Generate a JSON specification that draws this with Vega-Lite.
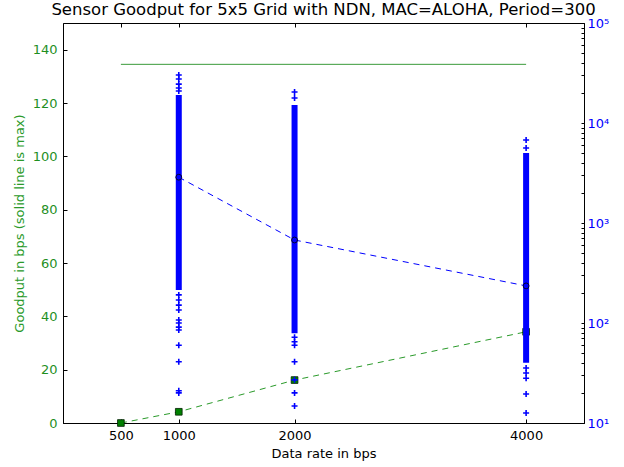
{
  "$schema": "https://vega.github.io/schema/vega-lite/v6.json",
  "width": 521,
  "height": 400,
  "autosize": {"type": "none"},
  "padding": {"left": 63, "top": 23, "right": 40, "bottom": 44},
  "background": "white",
  "config": {
    "font": "DejaVu Sans",
    "view": {"stroke": "black", "strokeWidth": 1},
    "axis": {
      "grid": false,
      "domainColor": "black",
      "tickColor": "black",
      "labelFontSize": 13,
      "titleFontSize": 13,
      "titleFontWeight": "normal",
      "labelColor": "black",
      "titleColor": "black",
      "tickSize": -4,
      "labelFlush": false,
      "labelOverlap": false
    }
  },
  "title": {
    "text": "Sensor Goodput for 5x5 Grid with NDN, MAC=ALOHA, Period=300",
    "fontSize": 16.5,
    "fontWeight": "normal",
    "anchor": "middle",
    "offset": -1,
    "color": "black"
  },
  "datasets": {
    "green": [
      {"rate": 500, "goodput": 0},
      {"rate": 1000, "goodput": 4.2},
      {"rate": 2000, "goodput": 16.1},
      {"rate": 4000, "goodput": 34.2}
    ],
    "maxline": [
      {"rate": 500, "goodput": 134.5},
      {"rate": 4000, "goodput": 134.5}
    ],
    "blueline": [
      {"rate": 1000, "value": 2870},
      {"rate": 2000, "value": 676},
      {"rate": 4000, "value": 235}
    ],
    "ranges": [
      {"rate": 1000, "low": 214, "high": 19050},
      {"rate": 2000, "low": 79, "high": 15100},
      {"rate": 4000, "low": 40, "high": 5000}
    ],
    "scatter": [
      {"rate": 1000, "value": 30200},
      {"rate": 1000, "value": 27500},
      {"rate": 1000, "value": 24500},
      {"rate": 1000, "value": 22400},
      {"rate": 1000, "value": 20900},
      {"rate": 1000, "value": 191},
      {"rate": 1000, "value": 170},
      {"rate": 1000, "value": 151},
      {"rate": 1000, "value": 135},
      {"rate": 1000, "value": 107},
      {"rate": 1000, "value": 100},
      {"rate": 1000, "value": 91},
      {"rate": 1000, "value": 85},
      {"rate": 1000, "value": 60},
      {"rate": 1000, "value": 41},
      {"rate": 1000, "value": 21},
      {"rate": 1000, "value": 20},
      {"rate": 2000, "value": 20400},
      {"rate": 2000, "value": 17800},
      {"rate": 2000, "value": 72},
      {"rate": 2000, "value": 65},
      {"rate": 2000, "value": 60},
      {"rate": 2000, "value": 41},
      {"rate": 2000, "value": 27},
      {"rate": 2000, "value": 20},
      {"rate": 2000, "value": 14.8},
      {"rate": 4000, "value": 6760},
      {"rate": 4000, "value": 5620},
      {"rate": 4000, "value": 35.5},
      {"rate": 4000, "value": 31.6},
      {"rate": 4000, "value": 28},
      {"rate": 4000, "value": 19.5},
      {"rate": 4000, "value": 12.6}
    ]
  },
  "layer": [
    {
      "encoding": {
        "x": {
          "field": "rate",
          "type": "quantitative",
          "scale": {"domain": [0, 4500]},
          "axis": {
            "orient": "bottom",
            "values": [500, 1000, 2000, 4000],
            "format": "d",
            "title": "Data rate in bps",
            "labelPadding": 10,
            "titlePadding": 5
          }
        },
        "y": {
          "field": "goodput",
          "type": "quantitative",
          "scale": {"domain": [0, 150]},
          "axis": {
            "orient": "left",
            "values": [0, 20, 40, 60, 80, 100, 120, 140],
            "title": "Goodput in bps (solid line is max)",
            "labelColor": "#1f8f1f",
            "titleColor": "#2a9a2a",
            "labelPadding": 10,
            "titlePadding": 6
          }
        }
      },
      "layer": [
        {
          "data": {"name": "maxline"},
          "mark": {"type": "line", "color": "#3a9a3a", "strokeWidth": 1}
        },
        {
          "data": {"name": "green"},
          "mark": {"type": "line", "color": "#2a9a2a", "strokeWidth": 1, "strokeDash": [6, 5]}
        },
        {
          "data": {"name": "green"},
          "mark": {"type": "point", "shape": "square", "filled": true, "fill": "#008000", "stroke": "#002000", "strokeWidth": 0.8, "size": 45, "opacity": 1}
        }
      ]
    },
    {
      "encoding": {
        "x": {
          "field": "rate",
          "type": "quantitative",
          "scale": {"domain": [0, 4500]},
          "axis": {
            "orient": "top",
            "values": [500, 1000, 2000, 4000],
            "labels": false,
            "title": null,
            "domain": false
          }
        }
      },
      "layer": [
        {
          "data": {"name": "ranges"},
          "mark": {"type": "rule", "color": "#0000ff", "strokeWidth": 6},
          "encoding": {
            "y": {
              "field": "low",
              "type": "quantitative",
              "scale": {"type": "log", "domain": [10, 100000]},
              "axis": {
                "orient": "right",
                "title": null,
                "values": [10, 20, 30, 40, 50, 60, 70, 80, 90, 100, 200, 300, 400, 500, 600, 700, 800, 900, 1000, 2000, 3000, 4000, 5000, 6000, 7000, 8000, 9000, 10000, 20000, 30000, 40000, 50000, 60000, 70000, 80000, 90000, 100000],
                "labelExpr": "datum.value == 10 ? '10¹' : datum.value == 100 ? '10²' : datum.value == 1000 ? '10³' : datum.value == 10000 ? '10⁴' : datum.value == 100000 ? '10⁵' : ''",
                "labelColor": "#0000ff",
                "tickSize": -3,
                "labelPadding": 6
              }
            },
            "y2": {"field": "high"}
          }
        },
        {
          "data": {"name": "scatter"},
          "mark": {"type": "point", "shape": "M-1,0L1,0M0,-1L0,1", "filled": false, "stroke": "#0000ff", "strokeWidth": 1.6, "size": 36, "opacity": 1},
          "encoding": {"y": {"field": "value", "type": "quantitative"}}
        },
        {
          "data": {"name": "blueline"},
          "mark": {"type": "line", "color": "#0000ff", "strokeWidth": 1, "strokeDash": [6, 5]},
          "encoding": {"y": {"field": "value", "type": "quantitative"}}
        },
        {
          "data": {"name": "blueline"},
          "mark": {"type": "point", "shape": "circle", "filled": true, "color": "#0000ff", "stroke": "#000033", "strokeWidth": 1, "size": 34, "opacity": 1},
          "encoding": {"y": {"field": "value", "type": "quantitative"}}
        }
      ]
    }
  ],
  "resolve": {
    "scale": {"y": "independent"},
    "axis": {"y": "independent", "x": "independent"}
  }
}
